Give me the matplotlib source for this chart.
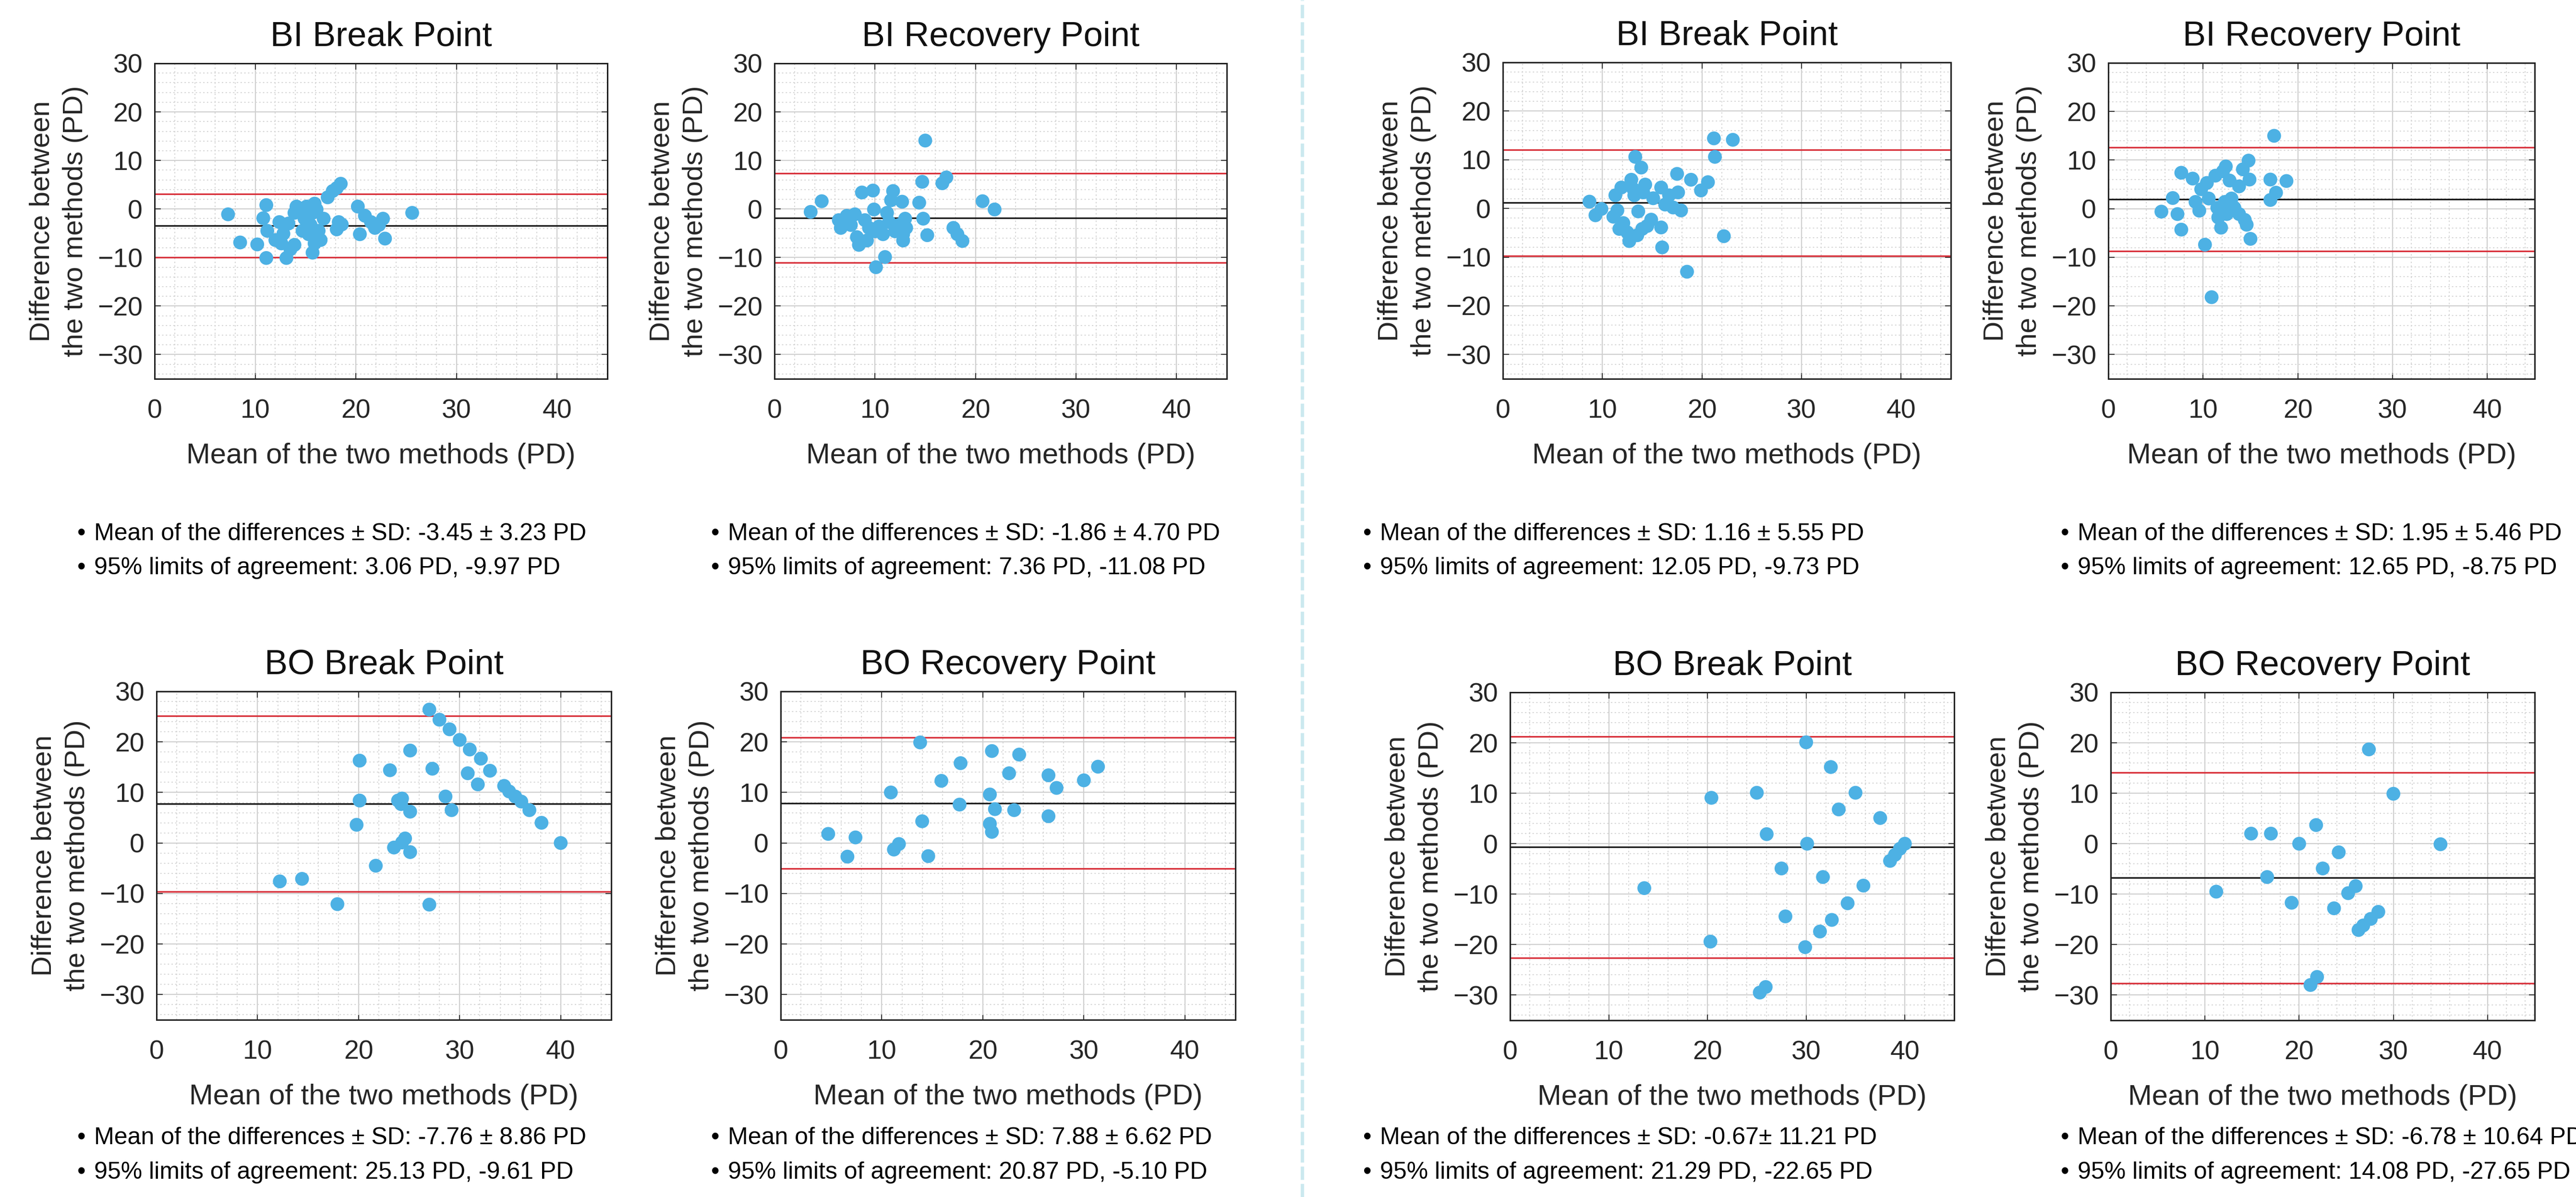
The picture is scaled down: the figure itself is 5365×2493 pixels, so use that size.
import matplotlib.pyplot as plt
from matplotlib.lines import Line2D
from matplotlib.ticker import MultipleLocator

plt.rcParams['font.family'] = ['Liberation Sans', 'DejaVu Sans']

# ---- data (mean of two methods, difference) ----
bi_break_l_x = [7.3, 8.5, 10.2, 11.1, 11.1, 10.8, 11.2, 12.0, 12.4, 12.8, 12.6, 13.1, 13.5, 13.9,
                13.9, 14.1, 14.7, 14.9, 15.1, 15.5, 15.7, 15.9, 16.1, 16.3, 15.9, 15.7, 16.5, 16.8,
                17.2, 17.7, 18.1, 18.5, 18.3, 18.1, 18.6, 20.2, 20.4, 20.9, 21.5, 21.9, 22.3, 22.7,
                22.9, 25.6, 13.3, 14.7, 15.3]
bi_break_l_y = [-1.1, -6.9, -7.3, -10.1, 0.8, -1.9, -4.5, -6.4, -2.7, -5.1, -7.1, -10.1, -8.3, -7.4,
                -0.8, 0.5, -0.1, -2.0, 0.5, -3.3, -0.8, 1.1, -0.1, -4.5, -7.1, -9.0, -6.4, -2.0,
                2.4, 3.7, 4.3, 5.2, -2.7, -4.2, -3.2, 0.5, -5.2, -1.4, -2.7, -3.9, -3.3, -2.0,
                -6.1, -0.8, -3.0, -4.5, -5.2]

bi_recov_l_x = [3.6, 4.7, 6.4, 6.6, 7.2, 7.6, 8.0, 8.2, 8.4, 8.7, 9.0, 9.2, 9.8, 9.9, 10.0, 10.4,
                10.1, 11.0, 10.8, 11.2, 11.4, 11.6, 11.8, 12.0, 12.4, 12.7, 12.8, 13.0, 13.1, 12.8,
                14.4, 14.7, 14.8, 15.0, 15.2, 16.7, 17.1, 17.8, 18.2, 18.7, 20.7, 21.9, 9.8, 9.4]
bi_recov_l_y = [-0.6, 1.6, -2.3, -3.9, -1.4, -3.3, -1.1, -5.8, -7.4, 3.4, -2.3, -6.5, 3.8, -0.1,
                -4.6, -3.6, -12.0, -9.9, -5.2, -0.8, -2.7, 1.8, 3.7, -4.6, -3.3, 1.5, -5.2, -2.0,
                -3.9, -6.5, 1.3, 5.6, -2.0, 14.1, -5.4, 5.3, 6.5, -3.9, -5.2, -6.6, 1.6, -0.1,
                -4.2, -3.9]

bi_break_r_x = [8.7, 9.3, 9.9, 11.1, 11.3, 11.5, 11.9, 11.7, 12.1, 12.5, 12.7, 12.9, 13.2, 13.3,
                13.5, 13.6, 13.9, 14.0, 14.3, 14.5, 14.9, 15.1, 15.9, 15.9, 16.0, 16.3, 16.7, 17.1,
                17.5, 17.6, 17.9, 18.5, 18.9, 19.9, 20.6, 21.2, 21.3, 22.2, 23.1, 13.1, 14.1]
bi_break_r_y = [1.4, -1.4, -0.1, -1.7, 2.7, -0.4, 4.3, -4.2, -3.0, -4.9, -6.7, 5.9, 2.7, 10.6,
                -5.5, -0.6, 8.4, -4.2, 4.9, -3.6, -2.3, 2.1, 4.3, -3.9, -8.0, 0.8, 2.7, 0.2,
                7.1, 3.3, -0.4, -13.0, 5.9, 3.7, 5.4, 14.4, 10.6, -5.7, 14.1, 4.0, 3.3]

bi_recov_r_x = [5.6, 6.8, 7.3, 7.7, 7.7, 8.9, 9.2, 9.6, 9.8, 10.2, 10.4, 10.6, 10.9, 11.3, 11.5,
                11.6, 11.9, 12.1, 12.4, 12.5, 12.8, 13.0, 13.3, 13.8, 13.8, 14.2, 14.4, 14.6, 14.8,
                14.9, 15.0, 17.1, 17.1, 17.5, 17.7, 18.8, 12.3]
bi_recov_r_y = [-0.6, 2.2, -1.1, 7.4, -4.3, 6.2, 1.4, -0.4, 4.0, -7.4, 5.3, 2.1, -18.2, 6.8, 0.2,
                -1.8, -3.9, 7.7, 8.7, -1.1, 5.8, 2.1, 0.2, -1.1, 4.6, 8.1, -2.3, -3.3, 9.9,
                6.0, -6.2, 6.0, 1.8, 15.0, 3.3, 5.7, 1.4]

bo_break_l_x = [12.2, 14.4, 17.9, 19.8, 20.1, 20.1, 21.7, 23.1, 23.5, 23.9, 24.2, 24.3, 24.3, 24.6,
                25.1, 25.1, 25.1, 27.0, 27.0, 27.3, 28.0, 28.6, 29.2, 29.0, 30.0, 30.8, 31.0, 31.8,
                32.1, 33.0, 34.4, 34.9, 35.5, 36.1, 36.9, 38.1, 40.0]
bo_break_l_y = [-7.6, -7.1, -12.1, 3.6, 16.3, 8.4, -4.5, 14.4, -0.9, 8.4, 7.7, 8.8, 0.1, 0.9,
                6.2, 18.3, -1.8, 26.4, -12.2, 14.7, 24.4, 9.2, 6.5, 22.5, 20.4, 13.8, 18.5, 11.6,
                16.7, 14.3, 11.3, 10.2, 9.2, 8.2, 6.5, 4.0, 0.0]

bo_recov_l_x = [4.7, 6.6, 7.4, 10.9, 11.2, 11.7, 13.8, 14.0, 14.6, 15.9, 17.7, 17.8, 20.7, 20.7,
                20.9, 20.9, 21.2, 22.6, 23.1, 23.6, 26.5, 26.5, 27.3, 30.0, 31.4]
bo_recov_l_y = [1.8, -2.7, 1.1, 10.0, -1.3, -0.2, 19.9, 4.3, -2.6, 12.3, 7.6, 15.8, 9.6, 3.8,
                2.2, 18.2, 6.7, 13.8, 6.5, 17.5, 5.3, 13.4, 10.9, 12.4, 15.1]

bo_break_r_x = [13.6, 20.3, 20.4, 25.0, 25.3, 25.9, 26.0, 27.5, 27.9, 29.9, 30.0, 30.1, 31.4, 31.7,
                32.5, 32.6, 33.3, 34.2, 35.0, 35.8, 37.5, 38.5, 39.0, 39.5, 40.0]
bo_break_r_y = [-8.8, -19.4, 9.1, 10.1, -29.5, -28.4, 1.9, -4.9, -14.4, -20.5, 20.1, 0.0, -17.4,
                -6.6, 15.2, -15.1, 6.8, -11.8, 10.1, -8.3, 5.1, -3.4, -2.2, -1.0, 0.0]

bo_recov_r_x = [11.2, 14.9, 17.0, 16.6, 19.2, 20.0, 21.2, 21.9, 21.8, 22.5, 23.7, 24.2, 25.2, 26.0,
                26.3, 26.8, 27.4, 27.6, 28.4, 30.0, 35.0]
bo_recov_r_y = [-9.5, 2.0, 2.0, -6.6, -11.7, 0.0, -28.0, -26.4, 3.7, -4.9, -12.8, -1.7, -9.8, -8.4,
                -17.1, -16.2, 18.7, -14.9, -13.5, 9.9, -0.1]

titles = ['BI Break Point', 'BI Recovery Point', 'BI Break Point', 'BI Recovery Point',
          'BO Break Point', 'BO Recovery Point', 'BO Break Point', 'BO Recovery Point']
xs = [bi_break_l_x, bi_recov_l_x, bi_break_r_x, bi_recov_r_x,
      bo_break_l_x, bo_recov_l_x, bo_break_r_x, bo_recov_r_x]
ys = [bi_break_l_y, bi_recov_l_y, bi_break_r_y, bi_recov_r_y,
      bo_break_l_y, bo_recov_l_y, bo_break_r_y, bo_recov_r_y]

# mean line and 95% limits drawn in each panel
mean_line = [-3.45, -1.86, 1.16, 1.95, 7.76, 7.88, -0.67, -6.78]
upper_loa = [3.06, 7.36, 12.05, 12.65, 25.13, 20.87, 21.29, 14.08]
lower_loa = [-9.97, -11.08, -9.73, -8.75, -9.61, -5.10, -22.65, -27.65]

# summary text under each panel
mean_sd_text = ['-3.45 ± 3.23 PD', '-1.86 ± 4.70 PD', '1.16 ± 5.55 PD', '1.95 ± 5.46 PD',
                '-7.76 ± 8.86 PD', '7.88 ± 6.62 PD', '-0.67± 11.21 PD', '-6.78 ± 10.64 PD']
loa_text = ['3.06 PD, -9.97 PD', '7.36 PD, -11.08 PD', '12.05 PD, -9.73 PD', '12.65 PD, -8.75 PD',
            '25.13 PD, -9.61 PD', '20.87 PD, -5.10 PD', '21.29 PD, -22.65 PD', '14.08 PD, -27.65 PD']

W, H = 5365, 2493
fig = plt.figure(figsize=(W / 100, H / 100), dpi=100)
fig.patch.set_facecolor('white')

# axes boxes in pixels: left, top, right, bottom
boxes = [(322, 132, 1265, 789), (1613, 132, 2555, 789),
         (3130, 130, 4063, 789), (4391, 131, 5279, 789),
         (326, 1440, 1273, 2124), (1626, 1440, 2573, 2124),
         (3145, 1442, 4070, 2125), (4396, 1442, 5279, 2125)]
bullet_x = [161, 1481, 2839, 4292]
text_rows = [(1112, 1183), (2370, 2442)]

dot_color = '#4DB1E4'
grid_col = '#cfcfcf'

for i, (l, t, r, b) in enumerate(boxes):
    ax = fig.add_axes([l / W, 1 - b / H, (r - l) / W, (b - t) / H])
    ax.set_xlim(0, 45)
    ax.set_ylim(-35, 30)
    ax.xaxis.set_major_locator(MultipleLocator(10))
    ax.yaxis.set_major_locator(MultipleLocator(10))
    ax.xaxis.set_minor_locator(MultipleLocator(2))
    ax.yaxis.set_minor_locator(MultipleLocator(2))
    ax.grid(True, which='major', color=grid_col, lw=1.6, zorder=0)
    ax.grid(True, which='minor', color='#d4d4d4', lw=1.4, ls=(0, (1.5, 2.5)), zorder=0)
    ax.set_axisbelow(True)
    ax.tick_params(which='both', direction='in', top=True, right=True, width=1.5,
                   colors='#333333', labelcolor='#262626')
    ax.tick_params(which='major', length=9, labelsize=40)
    ax.tick_params(axis='x', which='major', pad=30)
    ax.tick_params(axis='y', which='major', pad=18)
    ax.tick_params(which='minor', length=0)
    for s in ax.spines.values():
        s.set_linewidth(2.2)
        s.set_color('#222222')

    ax.axhline(upper_loa[i], color='#d8303a', lw=2.4, zorder=2)
    ax.axhline(lower_loa[i], color='#d8303a', lw=2.4, zorder=2)
    ax.axhline(mean_line[i], color='#1a1a1a', lw=2.4, zorder=2)
    ax.scatter(xs[i], ys[i], s=430, color=dot_color, edgecolors='none', zorder=3)

    ax.set_title(titles[i], fontsize=52, pad=26, color='#111111')
    ax.set_xlabel('Mean of the two methods (PD)', fontsize=43, labelpad=28, color='#262626')
    ax.set_ylabel('Difference between\nthe two methods (PD)', fontsize=42, labelpad=14,
                  color='#262626', linespacing=1.35)

    col = i % 4
    row = i // 4
    y1, y2 = text_rows[row]
    bx = bullet_x[col]
    fig.text(bx / W, 1 - y1 / H, '•', fontsize=36, va='center', ha='left')
    fig.text(bx / W, 1 - y2 / H, '•', fontsize=36, va='center', ha='left')
    fig.text((bx + 35) / W, 1 - y1 / H, 'Mean of the differences ± SD: ' + mean_sd_text[i],
             fontsize=36, va='center', ha='left')
    fig.text((bx + 35) / W, 1 - y2 / H, '95% limits of agreement: ' + loa_text[i],
             fontsize=36, va='center', ha='left')

# dashed separator between the two groups
fig.add_artist(Line2D([2712 / W, 2712 / W], [0, 1], transform=fig.transFigure,
                      color='#cbe9ef', lw=5, ls=(0, (4, 1.2))))

fig.savefig('out.png', dpi=100, facecolor='white')
